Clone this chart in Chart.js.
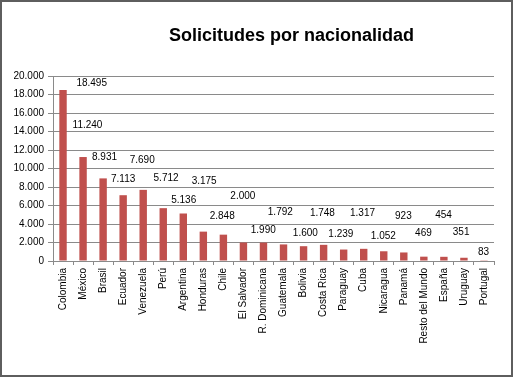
<!DOCTYPE html>
<html>
<head>
<meta charset="utf-8">
<script src="https://cdn.jsdelivr.net/npm/chart.js@4"></script>
<style>
  html, body { margin: 0; padding: 0; background: #fff; }
  #wrap { width: 513px; height: 377px; box-sizing: border-box; border: 2px solid #5e5e5e; background: #fff; }
  #c { display: block; }
</style>
</head>
<body>
<div id="wrap"><canvas id="c" width="509" height="373"></canvas></div>
<script>
const categories = ["Colombia","México","Brasil","Ecuador","Venezuela","Perú","Argentina","Honduras","Chile","El Salvador","R. Dominicana","Guatemala","Bolivia","Costa Rica","Paraguay","Cuba","Nicaragua","Panamá","Resto del Mundo","España","Uruguay","Portugal"];
const solicitudes = [18495, 11240, 8931, 7113, 7690, 5712, 5136, 3175, 2848, 2000, 1990, 1792, 1600, 1748, 1239, 1317, 1052, 923, 469, 454, 351, 83];
const yTicks = [0, 2000, 4000, 6000, 8000, 10000, 12000, 14000, 16000, 18000, 20000];
const chartTitle = 'Solicitudes por nacionalidad';
// where each value label sits (category index, value units)
const labelAtCategory = [1.43, 1.22, 2.07, 3.0, 3.95, 5.14, 6.02, 7.04, 7.94, 8.97, 9.99, 10.84, 12.09, 12.94, 13.86, 14.94, 15.98, 16.98, 17.98, 18.98, 19.86, 20.98];
const labelAtValue = [19207, 14674, 11163, 8880, 10870, 8989, 6522, 8620, 4891, 6957, 3337, 5250, 3011, 5185, 2935, 5185, 2717, 4891, 3011, 5000, 3076, 978];

const fmt = v => Number(v).toLocaleString('de-DE');
const FONT = "'Liberation Sans', Arial, sans-serif";

const valueLabels = {
  id: 'valueLabels',
  afterDatasetsDraw(chart) {
    const ctx = chart.ctx, xs = chart.scales.x, ys = chart.scales.y;
    ctx.save();
    ctx.font = "10px " + FONT;
    ctx.fillStyle = '#000';
    ctx.textAlign = 'center';
    ctx.textBaseline = 'middle';
    solicitudes.forEach((v, i) => {
      ctx.fillText(fmt(v), xs.getPixelForValue(labelAtCategory[i]), ys.getPixelForValue(labelAtValue[i]));
    });
    // title, placed as in the original (right of centre)
    ctx.font = "bold 18px " + FONT;
    ctx.fillText(chartTitle, 289.5, 34);
    ctx.restore();
  }
};

new Chart(document.getElementById('c'), {
  type: 'bar',
  data: {
    labels: categories,
    datasets: [{
      data: solicitudes,
      backgroundColor: '#C0504D',
      borderWidth: 0,
      categoryPercentage: 1,
      barPercentage: 0.37
    }]
  },
  options: {
    responsive: false,
    animation: false,
    layout: { padding: { top: 74, right: 17, bottom: 0, left: 0 } },
    plugins: {
      legend: { display: false },
      tooltip: { enabled: false },
      title: { display: false }
    },
    scales: {
      x: {
        offset: true,
        grid: { display: true, offset: true, drawOnChartArea: false, drawTicks: true, tickLength: 4, color: '#8a8a8a' },
        border: { display: true, color: '#8a8a8a' },
        ticks: { autoSkip: false, maxRotation: 90, minRotation: 90, padding: 3, color: '#000', font: { family: FONT, size: 10 } },
        afterFit(s) { s.height = 114; }
      },
      y: {
        min: 0, max: 20000,
        afterBuildTicks(s) { s.ticks = yTicks.map(v => ({ value: v })); },
        grid: { color: '#8a8a8a', drawTicks: true, tickLength: 5 },
        border: { display: true, color: '#8a8a8a' },
        ticks: { padding: 4, color: '#000', font: { family: FONT, size: 10 }, callback: v => fmt(v) },
        afterFit(s) { s.width = 51; }
      }
    }
  },
  plugins: [valueLabels]
});
</script>
</body>
</html>
